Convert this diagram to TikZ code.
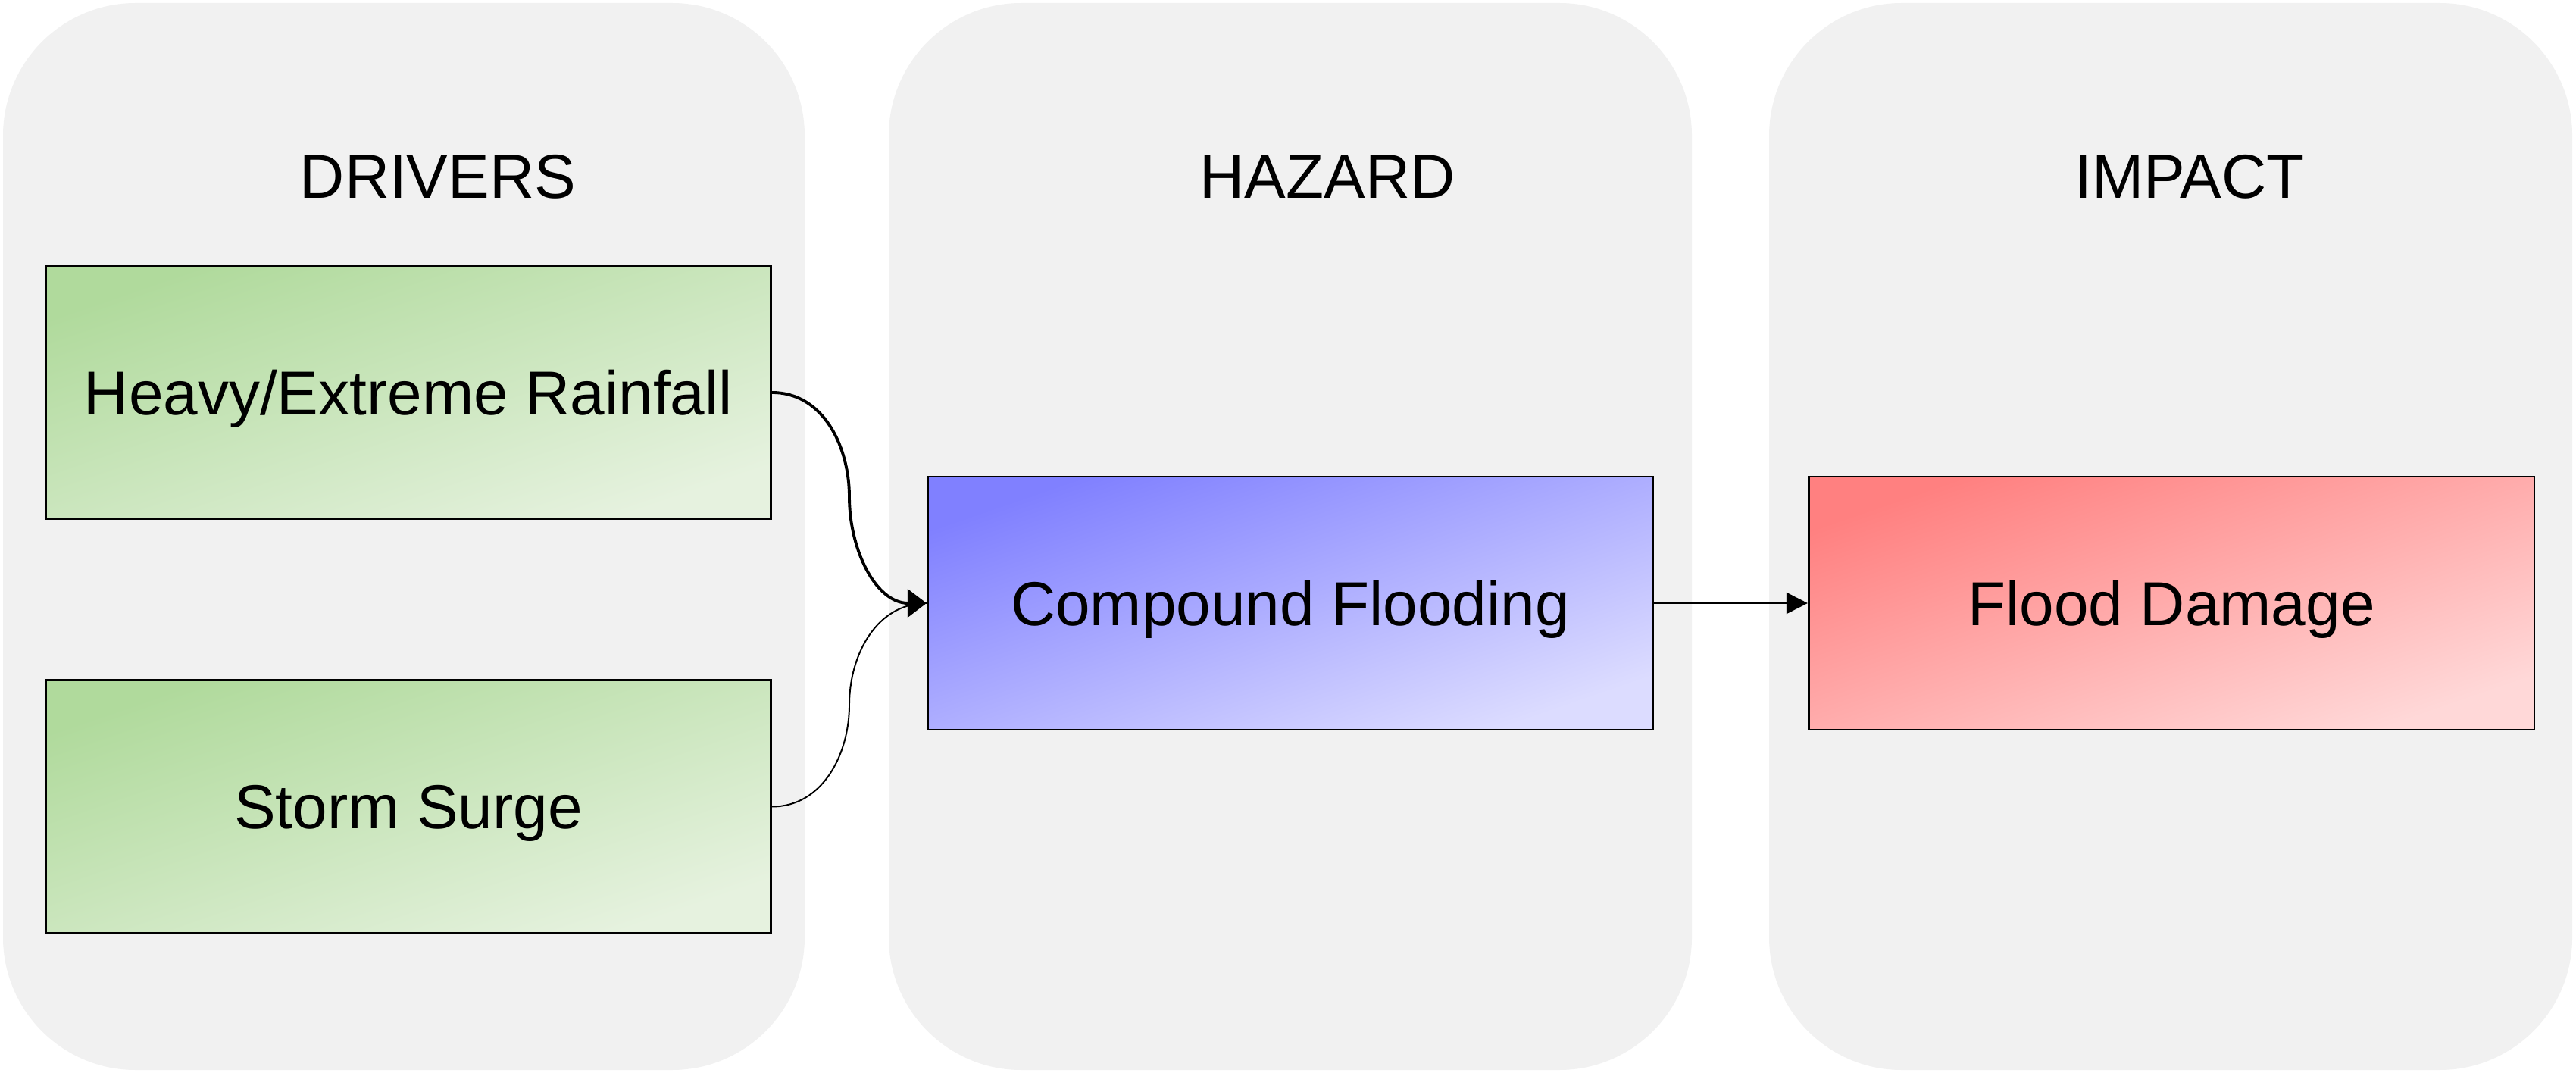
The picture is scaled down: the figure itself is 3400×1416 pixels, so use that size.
\documentclass[tikz,border=0pt]{standalone}
\usepackage{fontspec}
\setmainfont{Liberation Sans}
\usetikzlibrary{arrows.meta}
\definecolor{panelgray}{HTML}{F1F1F1}
\definecolor{gA}{HTML}{B0DA9C}
\definecolor{gB}{HTML}{E6F2DF}
\definecolor{bA}{HTML}{8080FF}
\definecolor{bB}{HTML}{DCDCFF}
\definecolor{rA}{HTML}{FF8080}
\definecolor{rB}{HTML}{FFD8D8}
\tikzset{
  panel/.style={fill=panelgray, draw=none, rounded corners=1.75cm},
  title/.style={font=\fontsize{23.3pt}{28pt}\selectfont, text height=16.7pt, text depth=0pt, inner sep=0pt},
  box/.style={draw=black, line width=0.75pt, minimum width=9.57cm, minimum height=3.34cm, inner sep=0pt,
    font=\fontsize{23.3pt}{28pt}\selectfont, text height=16.7pt, text depth=0pt},
  greenbox/.style={box, top color=gA, bottom color=gB, shading angle=19},
  bluebox/.style={box, top color=bA, bottom color=bB, shading angle=19},
  redbox/.style={box, top color=rA, bottom color=rB, shading angle=19},
  thickedge/.style={line width=1.1pt, -{Triangle[length=0.25cm,width=0.37cm]}},
  thinedge/.style={line width=0.55pt},
  thinarrow/.style={line width=0.55pt, -{Triangle[length=0.28cm,width=0.28cm]}}
}
\begin{document}
\begin{tikzpicture}[x=0.01cm,y=-0.01cm]
\useasboundingbox (0,0) rectangle (3400,1416);
\fill[white] (0,0) rectangle (3400,1416);
% panels
\path[panel] (4,4) rectangle (1062,1412);
\path[panel] (1173,4) rectangle (2233,1412);
\path[panel] (2335,4) rectangle (3395,1412);
% titles
\node[title] (t1) at (578,232) {DRIVERS};
\node[title] (t2) at (1752,232) {HAZARD};
\node[title] (t3) at (2890,232) {IMPACT};
% boxes
\node[greenbox] (rain) at (539,518) {Heavy/Extreme Rainfall};
\node[greenbox] (storm) at (539,1064.5) {Storm Surge};
\node[bluebox] (comp) at (1703,796) {Compound Flooding};
\node[redbox] (flood) at (2866,796) {Flood Damage};
% connectors
\coordinate (m1) at (1121,656);
\coordinate (m2) at (1121,930);
\draw[thinedge] (storm.east) to[out=0,in=-90] (m2) to[out=90,in=180] (comp.west);
\draw[thickedge] (rain.east) to[out=0,in=90] (m1) to[out=-90,in=180] (comp.west);
\draw[thinarrow] (comp.east) -- (flood.west);
\end{tikzpicture}
\end{document}
